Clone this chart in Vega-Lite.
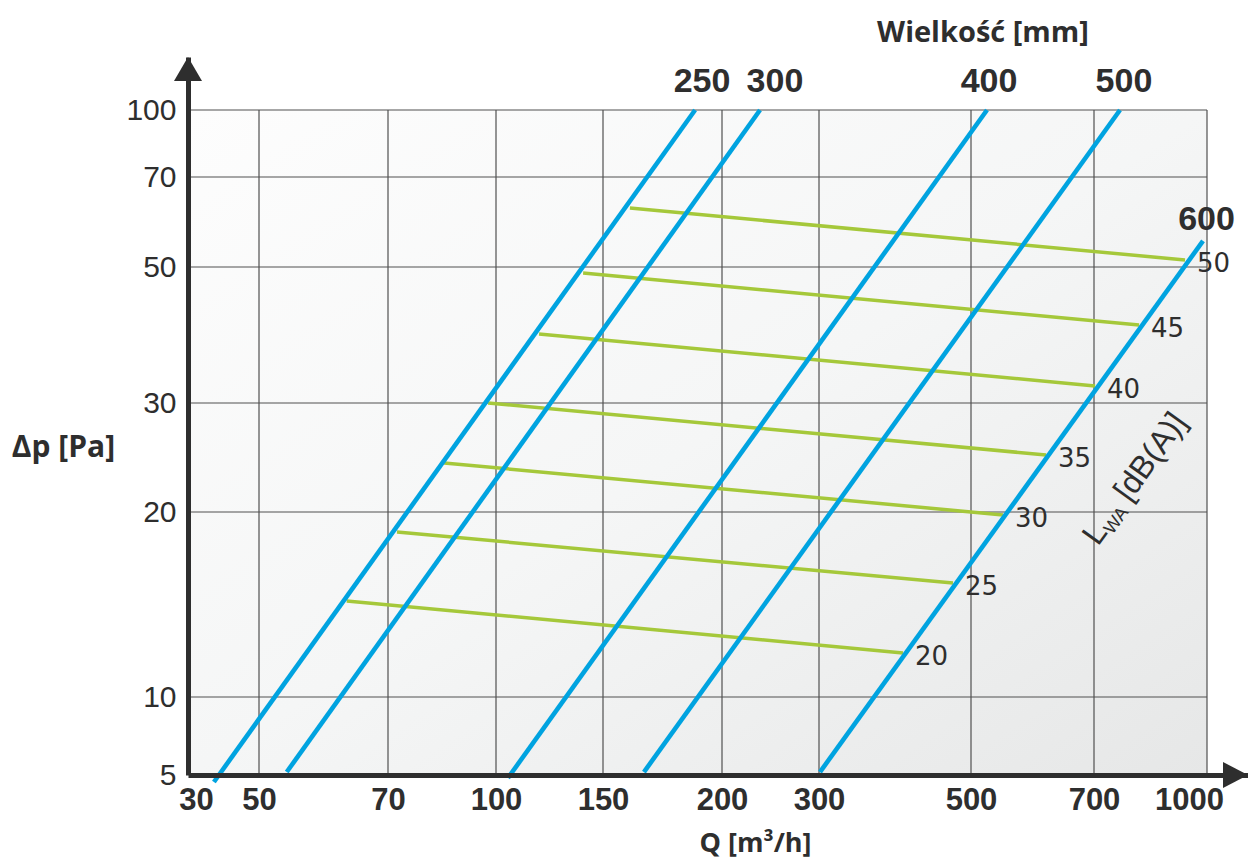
{
  "$schema": "https://vega.github.io/schema/vega-lite/v6.json",
  "autosize": {"type": "none"},
  "padding": {"left": 188, "top": 57, "right": 0, "bottom": 84},
  "width": 1060,
  "height": 718,
  "background": "white",
  "config": {"view": {"stroke": null, "fill": null}},
  "title": {"text": "Wielkość [mm]", "frame": "group", "anchor": "middle", "dx": 265, "dy": 31, "orient": "top", "offset": 17, "baseline": "alphabetic", "font": "Open Sans", "fontSize": 29, "fontWeight": "bold", "color": "#2e2e2e"},
  "datasets": {
    "blue": [
      {"size": "250", "Q": 37.3, "dp": 4.55}, {"size": "250", "Q": 188.7, "dp": 100},
      {"size": "300", "Q": 54.3, "dp": 5.19}, {"size": "300", "Q": 239.2, "dp": 100},
      {"size": "400", "Q": 105.6, "dp": 4.81}, {"size": "400", "Q": 526.0, "dp": 100},
      {"size": "500", "Q": 167.2, "dp": 5.19}, {"size": "500", "Q": 769.0, "dp": 100},
      {"size": "600", "Q": 301.3, "dp": 5.19}, {"size": "600", "Q": 989.4, "dp": 55.8}
    ],
    "green": [
      {"level": 50, "end": "start", "Q": 161.3, "dp": 63.11}, {"level": 50, "end": "end", "Q": 941.6, "dp": 51.56},
      {"level": 45, "end": "start", "Q": 140.7, "dp": 49.12}, {"level": 45, "end": "end", "Q": 819.5, "dp": 41.47},
      {"level": 40, "end": "start", "Q": 120.1, "dp": 40.15}, {"level": 40, "end": "end", "Q": 702.7, "dp": 32.5},
      {"level": 35, "end": "start", "Q": 97.8, "dp": 30.0}, {"level": 35, "end": "end", "Q": 622.0, "dp": 25.23},
      {"level": 30, "end": "start", "Q": 85.6, "dp": 24.5}, {"level": 30, "end": "end", "Q": 552.0, "dp": 19.84},
      {"level": 25, "end": "start", "Q": 72.5, "dp": 18.92}, {"level": 25, "end": "end", "Q": 476.3, "dp": 16.16},
      {"level": 20, "end": "start", "Q": 63.6, "dp": 15.19}, {"level": 20, "end": "end", "Q": 410.5, "dp": 12.38}
    ],
    "sizeLabels": [
      {"size": "250", "Q": 191.6, "dp": 100}, {"size": "300", "Q": 254.6, "dp": 100},
      {"size": "400", "Q": 529.3, "dp": 100}, {"size": "500", "Q": 779.6, "dp": 100},
      {"size": "600", "Q": 998.7, "dp": 54.2}
    ],
    "vgrid": [{"Q": 50}, {"Q": 70}, {"Q": 100}, {"Q": 150}, {"Q": 200}, {"Q": 300}, {"Q": 500}, {"Q": 700}, {"Q": 1000}],
    "hgrid": [{"dp": 10}, {"dp": 20}, {"dp": 30}, {"dp": 50}, {"dp": 70}, {"dp": 100}],
    "lwa": [{"Q": 710.6, "dp": 18.11}],
    "yArrow": [{"Q": 30, "dp": 130}],
    "xArrow": [{"Q": 1100, "dp": 5}]
  },
  "layer": [
    {
      "data": {"values": [{"x1": 30, "x2": 1000, "y1": 5, "y2": 100}]},
      "mark": {"type": "rect", "fill": {"gradient": "linear", "x1": 0, "y1": 0, "x2": 1, "y2": 1, "stops": [{"offset": 0, "color": "#fdfdfd"}, {"offset": 0.5, "color": "#f5f6f6"}, {"offset": 1, "color": "#e6e7e7"}]}},
      "encoding": {
        "x": {"field": "x1", "type": "quantitative",
          "scale": {"domain": [30, 50, 70, 100, 150, 200, 300, 500, 700, 1000, 1100], "range": [0, 71, 200, 308, 415, 534, 631, 783, 906, 1019, 1060], "zero": false, "nice": false},
          "axis": {"values": [30, 50, 70, 100, 150, 200, 300, 500, 700, 1000], "format": "d", "grid": false, "ticks": false, "tickSize": 0,
            "domainColor": "#2e2e2e", "domainWidth": 5,
            "labelFont": "Liberation Sans", "labelFontSize": 31, "labelFontWeight": "bold", "labelColor": "#2e2e2e",
            "labelPadding": 10, "labelOverlap": false, "labelFlush": false, "labelBound": false,
            "labelOffset": {"condition": [{"test": "datum.value == 30", "value": 8}, {"test": "datum.value == 1000", "value": -18}], "value": 0},
            "title": "Q [m³/h]", "titleFont": "Open Sans", "titleFontSize": 27, "titleFontWeight": "bold", "titleColor": "#2e2e2e",
            "titleX": 567, "titleY": 68, "titleAlign": "center", "titleBaseline": "middle", "titleAngle": 0,
            "zindex": 1
          }},
        "x2": {"field": "x2"},
        "y": {"field": "y1", "type": "quantitative",
          "scale": {"domain": [5, 10, 20, 30, 50, 70, 100, 130], "range": [718, 640, 455, 346, 210, 120, 53, 0], "zero": false, "nice": false},
          "axis": {"values": [5, 10, 20, 30, 50, 70, 100], "format": "d", "grid": false, "ticks": false, "tickSize": 0,
            "domainColor": "#2e2e2e", "domainWidth": 5,
            "labelFont": "Liberation Sans", "labelFontSize": 30, "labelColor": "#2e2e2e",
            "labelPadding": 12, "labelOverlap": false, "labelFlush": false, "labelBound": false,
            "title": "Δp [Pa]", "titleFont": "Open Sans", "titleFontSize": 30, "titleFontWeight": "bold", "titleColor": "#2e2e2e",
            "titleX": -125, "titleY": 390, "titleAlign": "center", "titleBaseline": "middle", "titleAngle": 0,
            "zindex": 1
          }},
        "y2": {"field": "y2"}
      }
    },
    {
      "data": {"name": "hgrid"},
      "mark": {"type": "rule", "color": "#505050", "strokeWidth": 1.2},
      "encoding": {
        "y": {"field": "dp", "type": "quantitative"},
        "x": {"datum": 30, "type": "quantitative"},
        "x2": {"datum": 1000}
      }
    },
    {
      "data": {"name": "vgrid"},
      "mark": {"type": "rule", "color": "#505050", "strokeWidth": 1.2},
      "encoding": {
        "x": {"field": "Q", "type": "quantitative"},
        "y": {"datum": 5, "type": "quantitative"},
        "y2": {"datum": 100}
      }
    },
    {
      "data": {"name": "green"},
      "mark": {"type": "line", "color": "#a5c83a", "strokeWidth": 3.5},
      "encoding": {
        "x": {"field": "Q", "type": "quantitative"},
        "y": {"field": "dp", "type": "quantitative"},
        "detail": {"field": "level"}
      }
    },
    {
      "data": {"name": "blue"},
      "mark": {"type": "line", "color": "#00a3e0", "strokeWidth": 4.6},
      "encoding": {
        "x": {"field": "Q", "type": "quantitative"},
        "y": {"field": "dp", "type": "quantitative"},
        "detail": {"field": "size"}
      }
    },
    {
      "data": {"name": "sizeLabels"},
      "mark": {"type": "text", "font": "Liberation Sans", "fontSize": 34, "fontWeight": "bold", "color": "#2e2e2e", "align": "center", "baseline": "alphabetic", "dy": -18},
      "encoding": {
        "x": {"field": "Q", "type": "quantitative"},
        "y": {"field": "dp", "type": "quantitative"},
        "text": {"field": "size"}
      }
    },
    {
      "data": {"name": "green"},
      "transform": [{"filter": "datum.end == 'end'"}],
      "mark": {"type": "text", "font": "DejaVu Sans", "fontSize": 26, "color": "#2e2e2e", "align": "left", "baseline": "alphabetic", "dx": 12, "dy": 12},
      "encoding": {
        "x": {"field": "Q", "type": "quantitative"},
        "y": {"field": "dp", "type": "quantitative"},
        "text": {"field": "level"}
      }
    },
    {
      "data": {"name": "lwa"},
      "mark": {"type": "text", "text": "L", "angle": -54.3, "font": "Liberation Sans", "fontSize": 32, "color": "#2e2e2e", "align": "left", "baseline": "alphabetic"},
      "encoding": {"x": {"field": "Q", "type": "quantitative"}, "y": {"field": "dp", "type": "quantitative"}}
    },
    {
      "data": {"name": "lwa"},
      "mark": {"type": "text", "text": "WA", "angle": -54.3, "font": "Liberation Sans", "fontSize": 18, "color": "#2e2e2e", "align": "left", "baseline": "alphabetic", "dx": 18, "dy": 5},
      "encoding": {"x": {"field": "Q", "type": "quantitative"}, "y": {"field": "dp", "type": "quantitative"}}
    },
    {
      "data": {"name": "lwa"},
      "mark": {"type": "text", "text": "[dB(A)]", "angle": -54.3, "font": "Liberation Sans", "fontSize": 32, "color": "#2e2e2e", "align": "left", "baseline": "alphabetic", "dx": 54},
      "encoding": {"x": {"field": "Q", "type": "quantitative"}, "y": {"field": "dp", "type": "quantitative"}}
    },
    {
      "data": {"name": "yArrow"},
      "mark": {"type": "point", "shape": "M0,0L0.56,0.96L-0.56,0.96Z", "filled": true, "size": 2500, "color": "#2e2e2e", "opacity": 1, "strokeWidth": 0},
      "encoding": {"x": {"field": "Q", "type": "quantitative"}, "y": {"field": "dp", "type": "quantitative"}}
    },
    {
      "data": {"name": "xArrow"},
      "mark": {"type": "point", "shape": "M0,0L-1,-0.52L-1,0.52Z", "filled": true, "size": 2500, "color": "#2e2e2e", "opacity": 1, "strokeWidth": 0},
      "encoding": {"x": {"field": "Q", "type": "quantitative"}, "y": {"field": "dp", "type": "quantitative"}}
    }
  ]
}
